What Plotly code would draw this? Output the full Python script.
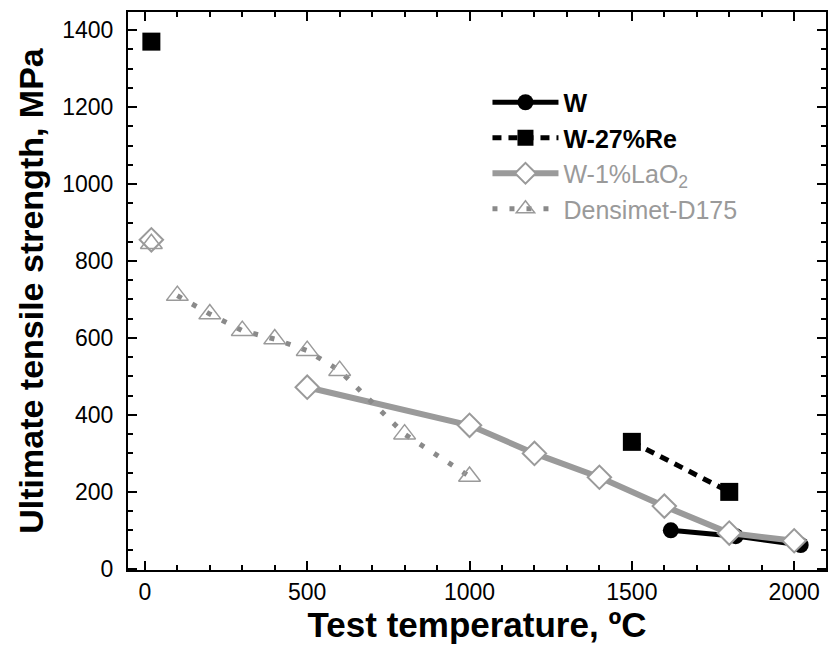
import plotly.graph_objects as go

# Data (temperature in °C, UTS in MPa); None breaks the line
w_x = [1620, 1820, 2020]
w_y = [100, 85, 62]

re_x = [20, None, 1500, 1800]
re_y = [1370, None, 330, 200]

la_x = [20, None, 500, 1000, 1200, 1400, 1600, 1800, 2000]
la_y = [855, None, 472, 373, 300, 238, 163, 93, 73]

de_x = [20, None, 100, 200, 300, 400, 500, 600, 800, 1000]
de_y = [845, None, 710, 662, 619, 597, 567, 515, 350, 240]

x_ticks = [0, 500, 1000, 1500, 2000]
y_ticks = [0, 200, 400, 600, 800, 1000, 1200, 1400]

GRAY = "#9a9a9a"
FONT = "Liberation Sans"

fig = go.Figure()

fig.add_trace(go.Scatter(
    x=w_x, y=w_y, mode="lines+markers", name="<b>W</b>",
    line=dict(color="black", width=5),
    marker=dict(symbol="circle", size=16, color="black"),
))
fig.add_trace(go.Scatter(
    x=re_x, y=re_y, mode="lines+markers", name="<b>W-27%Re</b>",
    line=dict(color="black", width=5, dash="9px,7px"),
    marker=dict(symbol="square", size=18, color="black"),
    connectgaps=False,
))
fig.add_trace(go.Scatter(
    x=la_x, y=la_y, mode="lines+markers",
    name='<span style="color:#9a9a9a">W-1%LaO<sub>2</sub></span>',
    line=dict(color=GRAY, width=6),
    marker=dict(symbol="diamond", size=18, color="white",
                line=dict(color=GRAY, width=2)),
    connectgaps=False,
))
fig.add_trace(go.Scatter(
    x=de_x, y=de_y, mode="lines+markers",
    name='<span style="color:#9a9a9a">Densimet-D175</span>',
    line=dict(color="#8a8a8a", width=5, dash="5px,12px"),
    marker=dict(symbol="triangle-up-open", size=19, color=GRAY,
                line=dict(color=GRAY, width=1.5)),
    connectgaps=False,
))

axis_common = dict(
    showgrid=False, zeroline=False,
    showline=True, linecolor="black", linewidth=2, mirror="allticks",
    ticks="inside", ticklen=9, tickwidth=2, tickcolor="black",
    tickfont=dict(family=FONT, size=23, color="black"),
)

fig.update_xaxes(
    range=[-52, 2098], tickvals=x_ticks,
    minor=dict(dtick=100, ticks="inside", ticklen=5, tickwidth=1.5, tickcolor="black"),
    title=dict(text="<b>Test temperature, ºC</b>",
               font=dict(family=FONT, size=35, color="black"), standoff=4),
    **axis_common,
)
fig.update_yaxes(
    range=[-3, 1447], tickvals=y_ticks,
    minor=dict(dtick=50, ticks="inside", ticklen=5, tickwidth=1.5, tickcolor="black"),
    title=dict(text="<b>Ultimate tensile strength, MPa</b>",
               font=dict(family=FONT, size=34, color="black"), standoff=8),
    ticklabelstandoff=8,
    **axis_common,
)

fig.update_layout(
    width=830, height=653,
    margin=dict(l=128, r=2, t=12, b=83),
    plot_bgcolor="white", paper_bgcolor="white",
    font=dict(family=FONT, color="black"),
    legend=dict(
        x=0.515, y=0.879, xanchor="left", yanchor="top",
        bgcolor="rgba(0,0,0,0)", borderwidth=0,
        font=dict(family=FONT, size=25, color="black"),
        itemwidth=66, tracegroupgap=0,
    ),
)

fig.write_html("out.html")
